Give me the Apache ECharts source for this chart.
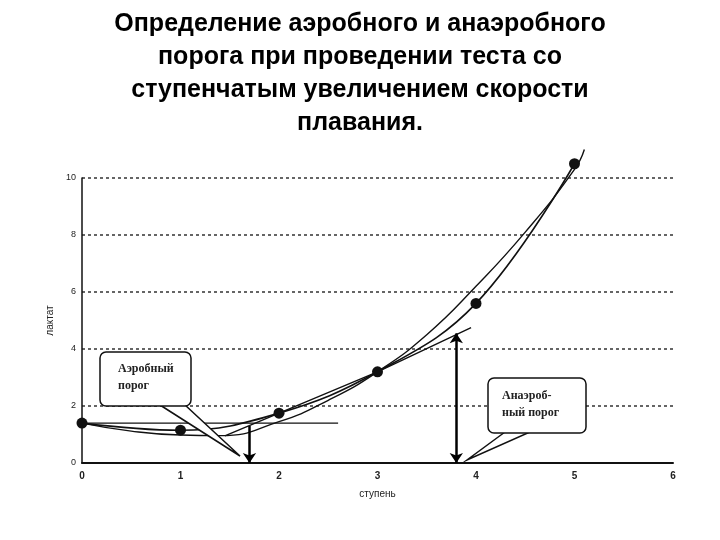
<!DOCTYPE html>
<html><head><meta charset="utf-8">
<script src="https://cdn.jsdelivr.net/npm/echarts@6/dist/echarts.min.js"></script>
<style>body{margin:0;background:#fff}#c{width:720px;height:540px}</style>
</head><body><div id="c"></div>
<script>
var titleText = 'Определение аэробного и анаэробного\nпорога при проведении теста со\nступенчатым увеличением скорости\nплавания.';
var steps = [0, 1, 2, 3, 4, 5];
var lactate = [1.4, 1.15, 1.75, 3.2, 5.6, 10.5];
var fitCurve = [[0, 1.4], [0.5, 1.12], [1, 0.98], [1.4, 0.96], [2, 1.45], [2.5, 2.2], [3, 3.2], [3.5, 4.5], [4, 6.2], [4.5, 8.1], [5, 10.3], [5.1, 11]];
var baseLine = [[0, 1.4], [2.6, 1.4]];
var tangent = [[1.45, 0.95], [3, 3.2], [3.95, 4.75]];
var arrowAer = [[1.7, 1.3], [1.7, 0]];
var arrowAnaer = [[3.8, 4.55], [3.8, 0]];

var chart = echarts.init(document.getElementById('c'));
chart.setOption({
  animation: false,
  title: {text: titleText, left: 'center', top: 3,
    textStyle: {fontFamily: 'Liberation Sans', fontSize: 25, fontWeight: 'bold', color: '#000', lineHeight: 33}},
  grid: {left: 82, right: 47, top: 178, bottom: 77},
  xAxis: {type: 'value', min: 0, max: 6, interval: 1, name: 'ступень', nameLocation: 'middle', nameGap: 26,
    nameTextStyle: {fontSize: 10, color: '#222'},
    axisLine: {lineStyle: {color: '#111', width: 2}}, axisTick: {show: false},
    axisLabel: {fontSize: 10, color: '#222', fontWeight: 'bold'}, splitLine: {show: false}},
  yAxis: {type: 'value', min: 0, max: 10, interval: 2, name: 'лактат', nameLocation: 'middle', nameGap: 22,
    nameTextStyle: {fontSize: 10, color: '#222'},
    axisLine: {show: true, lineStyle: {color: '#111', width: 1.5}}, axisTick: {show: false},
    axisLabel: {fontSize: 9, color: '#222', margin: 6},
    splitLine: {lineStyle: {color: '#333', type: [3, 3], width: 1.5}}},
  series: [
    {type: 'line', data: steps.map(function (s, i) { return [s, lactate[i]]; }), smooth: 0.4, clip: false,
      symbol: 'circle', symbolSize: 11, itemStyle: {color: '#111'}, lineStyle: {color: '#111', width: 1.6}},
    {type: 'line', data: fitCurve, smooth: true, clip: false, symbol: 'none', lineStyle: {color: '#111', width: 1.4}},
    {type: 'line', data: baseLine, symbol: 'none', lineStyle: {color: '#111', width: 1.4}},
    {type: 'line', data: tangent, symbol: 'none', lineStyle: {color: '#111', width: 1.4}},
    {type: 'line', data: [], markLine: {silent: true, symbol: ['none', 'arrow'], symbolSize: 10, label: {show: false},
      lineStyle: {color: '#000', width: 2.5, type: 'solid'},
      data: [[{coord: arrowAer[0]}, {coord: arrowAer[1]}]]}},
    {type: 'line', data: [], markLine: {silent: true, symbol: ['arrow', 'arrow'], symbolSize: 10, label: {show: false},
      lineStyle: {color: '#000', width: 2.5, type: 'solid'},
      data: [[{coord: arrowAnaer[0]}, {coord: arrowAnaer[1]}]]}}
  ],
  graphic: [
    {type: 'polygon', shape: {points: [[160, 405], [240, 456], [185, 405]]}, style: {fill: '#fff', stroke: '#111', lineWidth: 1.5}, z: 100},
    {type: 'rect', shape: {x: 100, y: 352, width: 91, height: 54, r: 6}, style: {fill: '#fff', stroke: '#111', lineWidth: 1.5}, z: 101},
    {type: 'polygon', shape: {points: [[505, 432], [467, 460], [530, 432]]}, style: {fill: '#fff', stroke: '#111', lineWidth: 1.5}, z: 100},
    {type: 'rect', shape: {x: 488, y: 378, width: 98, height: 55, r: 6}, style: {fill: '#fff', stroke: '#111', lineWidth: 1.5}, z: 101},
    {type: 'text', x: 118, y: 360, style: {text: 'Аэробный\nпорог', font: 'bold 12px "Liberation Serif"', fill: '#222', lineHeight: 17}, z: 102},
    {type: 'text', x: 502, y: 387, style: {text: 'Анаэроб-\nный порог', font: 'bold 12px "Liberation Serif"', fill: '#222', lineHeight: 17}, z: 102}
  ]
});
</script></body></html>
